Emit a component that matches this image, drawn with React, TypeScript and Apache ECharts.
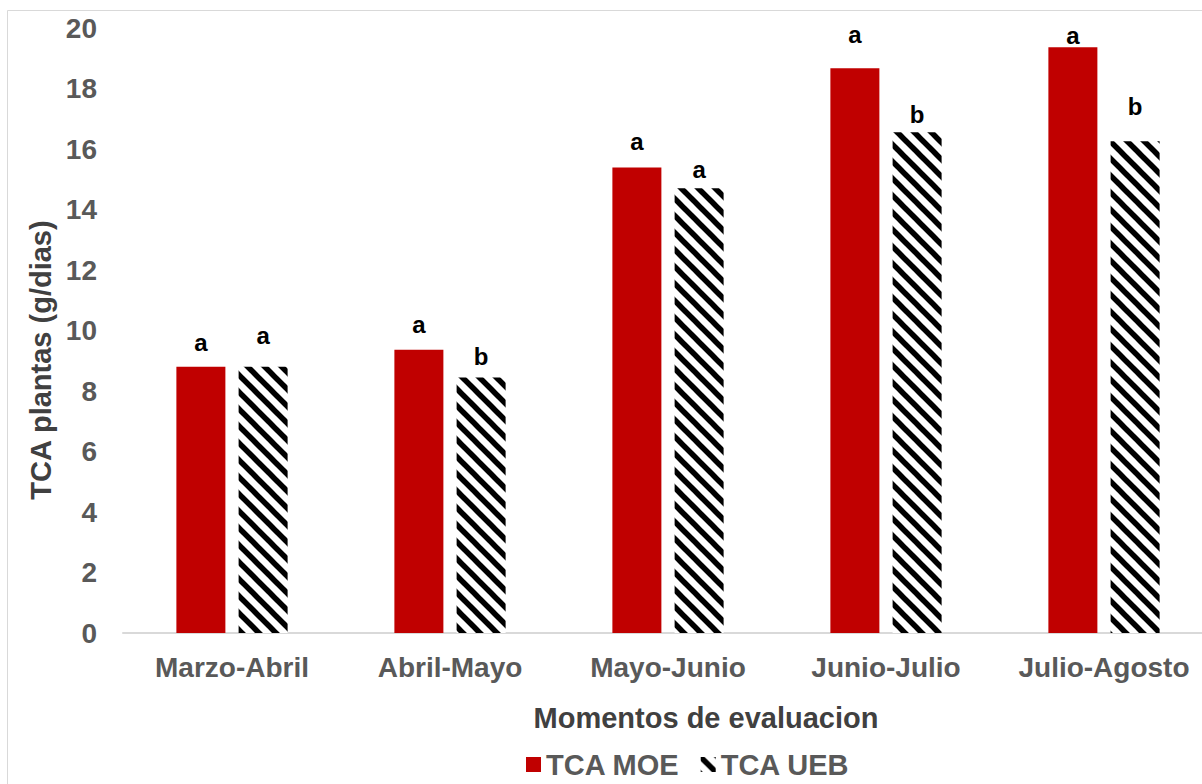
import React, { useEffect, useRef } from "react";
import * as echarts from "echarts";

// Evaluation periods and crop growth rate per treatment
const categories = ["Marzo-Abril", "Abril-Mayo", "Mayo-Junio", "Junio-Julio", "Julio-Agosto"];
const moeValues = [8.8, 9.36, 15.39, 18.67, 19.36];
const uebValues = [8.8, 8.45, 14.7, 16.55, 16.26];

// Significance letters written above each bar
const moeLetters = ["a", "a", "a", "a", "a"];
const uebLetters = ["a", "b", "a", "b", "b"];

// Vertical lift of each letter above its bar (px)
const moeLift = [12, 13, 14, 22, 0];
const uebLift = [19, 9, 7, 6, 23];

const yTicks = { min: 0, max: 20, interval: 2 };

const FONT = "'Liberation Sans', Arial, sans-serif";
const GREY = "#595959";

function makeHatch(size: number, width: number): HTMLCanvasElement {
  const c = document.createElement("canvas");
  c.width = size;
  c.height = size;
  const ctx = c.getContext("2d")!;
  ctx.fillStyle = "#ffffff";
  ctx.fillRect(0, 0, size, size);
  ctx.strokeStyle = "#000000";
  ctx.lineWidth = width;
  for (const off of [-size, 0, size]) {
    ctx.beginPath();
    ctx.moveTo(off - 3, -3);
    ctx.lineTo(off + size + 3, size + 3);
    ctx.stroke();
  }
  return c;
}

export default function App() {
  const ref = useRef<HTMLDivElement>(null);

  useEffect(() => {
    if (!ref.current) return;
    const chart = echarts.init(ref.current, undefined, { renderer: "svg" });
    const hatch = makeHatch(17, 5.5);
    const hatchFill: any = {
      image: hatch.toDataURL(),
      repeat: "repeat",
      imageWidth: 17,
      imageHeight: 17,
    };

    const letterLabel = (letter: string, lift: number) => ({
      show: true,
      position: "top",
      distance: lift,
      formatter: letter,
      color: "#000000",
      fontFamily: FONT,
      fontWeight: "bold",
      fontSize: 24,
    });

    chart.setOption({
      animation: false,
      backgroundColor: "#ffffff",
      grid: { left: 123, top: 28, width: 1090, height: 605 },
      legend: {
        left: 526,
        top: 750,
        padding: 0,
        itemWidth: 15,
        itemHeight: 15,
        itemGap: 21,
        icon: "rect",
        data: ["TCA MOE", "TCA UEB"],
        textStyle: { color: GREY, fontFamily: FONT, fontWeight: "bold", fontSize: 29 },
      },
      xAxis: {
        type: "category",
        data: categories,
        axisLine: { lineStyle: { color: "#d9d9d9", width: 2 } },
        axisTick: { show: false },
        axisLabel: {
          interval: 0,
          color: GREY,
          fontFamily: FONT,
          fontWeight: "bold",
          fontSize: 28,
          margin: 20,
        },
      },
      yAxis: {
        type: "value",
        min: yTicks.min,
        max: yTicks.max,
        interval: yTicks.interval,
        axisLine: { show: false },
        axisTick: { show: false },
        splitLine: { show: false },
        axisLabel: {
          color: GREY,
          fontFamily: FONT,
          fontWeight: "bold",
          fontSize: 28,
          margin: 26,
        },
      },
      series: [
        {
          name: "TCA MOE",
          type: "bar",
          barWidth: 49,
          barGap: "27%",
          itemStyle: { color: "#c00000" },
          data: moeValues.map((v, i) => ({
            value: v,
            label: letterLabel(moeLetters[i], moeLift[i]),
          })),
        },
        {
          name: "TCA UEB",
          type: "bar",
          barWidth: 49,
          itemStyle: { color: hatchFill },
          data: uebValues.map((v, i) => ({
            value: v,
            label: letterLabel(uebLetters[i], uebLift[i]),
          })),
        },
      ],
      graphic: [
        {
          type: "line",
          shape: { x1: 7.5, y1: 10.5, x2: 1260, y2: 10.5 },
          style: { stroke: "#d9d9d9", lineWidth: 1 },
          silent: true,
        },
        {
          type: "line",
          shape: { x1: 7.5, y1: 10.5, x2: 7.5, y2: 800 },
          style: { stroke: "#d9d9d9", lineWidth: 1 },
          silent: true,
        },
        {
          type: "text",
          x: 706,
          y: 718,
          style: {
            text: "Momentos de evaluacion",
            align: "center",
            verticalAlign: "middle",
            fill: "#404040",
            font: `bold 29px ${FONT}`,
          },
        },
        {
          type: "text",
          x: 41,
          y: 360,
          rotation: Math.PI / 2,
          style: {
            text: "TCA plantas (g/dias)",
            align: "center",
            verticalAlign: "middle",
            fill: "#404040",
            font: `bold 29px ${FONT}`,
          },
        },
      ],
    });

    return () => chart.dispose();
  }, []);

  return (
    <div
      style={{
        position: "absolute",
        left: 0,
        top: 0,
        width: 1202,
        height: 784,
        overflow: "hidden",
        background: "#ffffff",
      }}
    >
      <div ref={ref} style={{ position: "absolute", left: 0, top: 0, width: 1260, height: 800 }} />
    </div>
  );
}
